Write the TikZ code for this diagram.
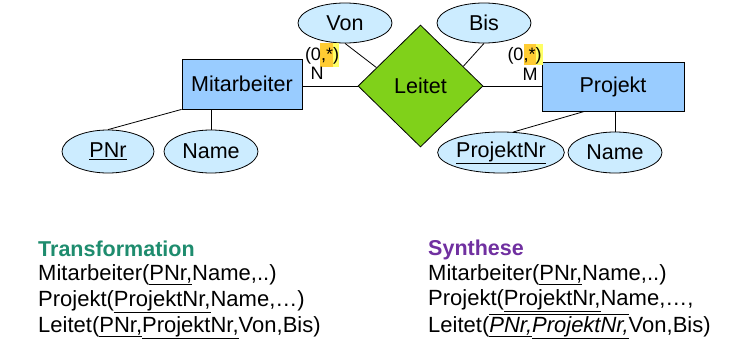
\documentclass[tikz,border=0pt]{standalone}
\usepackage{fontspec}
\setmainfont{Liberation Sans}
\usetikzlibrary{shapes.geometric,calc}
\definecolor{entblue}{HTML}{99CCFF}
\definecolor{attblue}{HTML}{CCECFF}
\definecolor{relgreen}{HTML}{80D11A}
\definecolor{hlgold}{HTML}{FFCC33}
\definecolor{hlyellow}{HTML}{FFFF66}
\definecolor{trteal}{HTML}{1E8C6E}
\definecolor{sypurple}{HTML}{7030A0}
\begin{document}
\begin{tikzpicture}[x=1pt,y=-1pt,
  basefont/.style={font=\fontsize{21.5}{25}\selectfont},
  every node/.style={basefont, inner sep=0pt},
  entity/.style={draw, line width=0.8pt, fill=entblue, rectangle},
  attr/.style={draw, line width=0.8pt, fill=attblue, ellipse},
  rel/.style={draw, line width=0.8pt, fill=relgreen, diamond},
  conn/.style={line width=0.8pt},
  card/.style={font=\fontsize{18}{20}\selectfont},
  txt/.style={anchor=base west, font=\fontsize{22}{26}\selectfont},
  head/.style={anchor=base west, font=\bfseries\fontsize{21.5}{25}\selectfont}]
\useasboundingbox (0,0) rectangle (752,348);

% entities, relationship, attributes
\node[entity, minimum width=120pt, minimum height=50pt] (mit) at (242,84) {Mitarbeiter};
\node[entity, minimum width=142pt, minimum height=49pt] (proj) at (613,86.5) {Projekt};
\node[rel, minimum width=125pt, minimum height=122pt] (lei) at (420.5,86) {Leitet};
\node[attr, minimum width=94pt, minimum height=40pt] (von) at (345,23) {Von};
\node[attr, minimum width=94pt, minimum height=40pt] (bis) at (484,23) {Bis};
\node[attr, minimum width=92pt, minimum height=43pt] (pnr) at (108,151.5) {\underline{PNr}};
\node[attr, minimum width=94pt, minimum height=43pt] (name1) at (211,151.5) {Name};
\node[attr, minimum width=115pt, minimum height=41pt] (pjnr) at (501,152.5) {\underline{ProjektNr}};
\node[attr, minimum width=94pt, minimum height=41pt] (name2) at (615,152.5) {Name};

% connectors
\draw[conn] (mit.east |- lei.west) -- (lei.west);
\draw[conn] (lei.east) -- (proj.west |- lei.east);
\draw[conn] (von.south) -- ($(lei.west)!0.3!(lei.north)$);
\draw[conn] (bis.south) -- ($(lei.east)!0.32!(lei.north)$);
\draw[conn] (mit.south west) -- (pnr.north);
\draw[conn] (name1.north) -- (name1.north |- mit.south);
\draw[conn] ($(proj.south west)!0.3!(proj.south east)$) -- (pjnr.59);
\draw[conn] (name2.north) -- (name2.north |- proj.south);

% cardinalities with highlight
\fill[hlgold] (320,43) rectangle (333,67);
\fill[hlyellow] (333,43) rectangle (339,67);
\fill[hlgold] (524,44) rectangle (536,65);
\fill[hlyellow] (536,44) rectangle (543,65);
\node[card] (c1) at (322,56) {(0,*)};
\node[card] (n1) at (317,73) {N};
\node[card] (c2) at (524.5,56) {(0,*)};
\node[card] (m1) at (530,74) {M};

% relational schemas
\node[head, text=trteal] (t0) at (38,256) {Transformation};
\node[txt] (t1) at (38,280) {Mitarbeiter(\underline{PNr,}Name,..)};
\node[txt] (t2) at (38,306) {Projekt(\underline{ProjektNr,}Name,…)};
\node[txt] (t3) at (38,332) {Leitet(\underline{PNr,}\underline{ProjektNr,}Von,Bis)};

\node[head, text=sypurple] (s0) at (428,255) {Synthese};
\node[txt] (s1) at (428,280) {Mitarbeiter(\underline{PNr,}Name,..)};
\node[txt] (s2) at (428,305) {Projekt(\underline{ProjektNr,}Name,…,};
\node[txt] (s3) at (428,332) {Leitet($\overline{\hbox{\underline{\itshape PNr,}\underline{\itshape ProjektNr,}}}$Von,Bis)};
\end{tikzpicture}
\end{document}
